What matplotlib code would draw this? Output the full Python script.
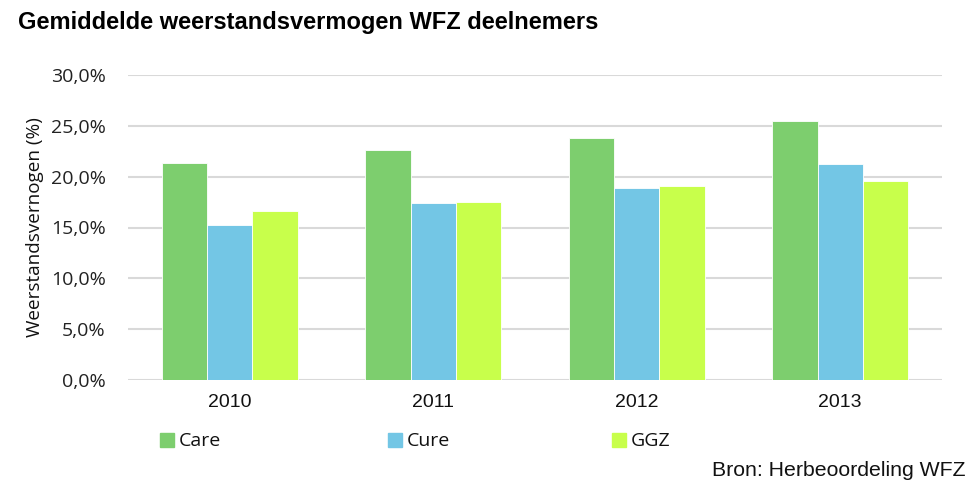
import matplotlib
matplotlib.use("Agg")
import matplotlib.pyplot as plt
import numpy as np

years = ["2010", "2011", "2012", "2013"]
series_names = ["Care", "Cure", "GGZ"]
care = [21.3, 22.65, 23.8, 25.5]
cure = [15.2, 17.4, 18.85, 21.2]
ggz = [16.6, 17.5, 19.05, 19.6]
yticks = [0, 5, 10, 15, 20, 25, 30]
ytick_labels = ["0,0%", "5,0%", "10,0%", "15,0%", "20,0%", "25,0%", "30,0%"]
colors = ["#7DCE6E", "#73C6E5", "#C8FF4B"]

W, H = 970, 483
fig = plt.figure(figsize=(W / 100, H / 100), dpi=100)
ax = fig.add_axes([128 / W, (H - 380) / H, (942 - 128) / W, (380 - 75) / H])

x = np.arange(len(years))
bw = 0.222
for i, (vals, c) in enumerate(zip([care, cure, ggz], colors)):
    ax.bar(x + (i - 1) * bw, vals, width=bw, color=c, edgecolor="white",
           linewidth=0.6, zorder=3, label=series_names[i])

ax.set_xlim(-0.5, len(years) - 0.5)
ax.set_ylim(0, 30)
ax.set_yticks(yticks)
ax.set_yticklabels(ytick_labels, fontfamily="Open Sans", fontsize=14, color="#222222")
ax.set_xticks(x)
ax.set_xticklabels(years, fontfamily="Liberation Sans", fontsize=14, color="#111111")
ax.tick_params(axis="both", length=0)
ax.tick_params(axis="y", pad=16)
ax.tick_params(axis="x", pad=10)
ax.grid(axis="y", color="#D9D9D9", linewidth=1.5, zorder=0)
for s in ax.spines.values():
    s.set_visible(False)

fig.text(35 / W, 1 - 227 / H, "Weerstandsvernogen (%)", rotation=90,
         fontfamily="Open Sans", fontsize=13.6, va="center", ha="center", color="#111111")

fig.text(18 / W, 1 - 22 / H, "Gemiddelde weerstandsvermogen WFZ deelnemers",
         fontfamily="Liberation Sans", fontweight="bold", fontsize=17, va="center", ha="left")
fig.text(966 / W, 1 - 470 / H, "Bron: Herbeoordeling WFZ",
         fontfamily="Liberation Sans", fontsize=15.3, va="center", ha="right", color="#111111")

leg_x = [160, 388, 612]
for lx, name, c in zip(leg_x, series_names, colors):
    fig.patches.append(matplotlib.patches.Rectangle((lx / W, 1 - 447 / H), 14 / W, 14 / H,
                                                    transform=fig.transFigure, color=c))
    fig.text((lx + 19) / W, 1 - 441 / H, name, fontfamily="Open Sans", fontsize=14,
             va="center", ha="left", color="#111111")

fig.savefig("out.png", dpi=100)
